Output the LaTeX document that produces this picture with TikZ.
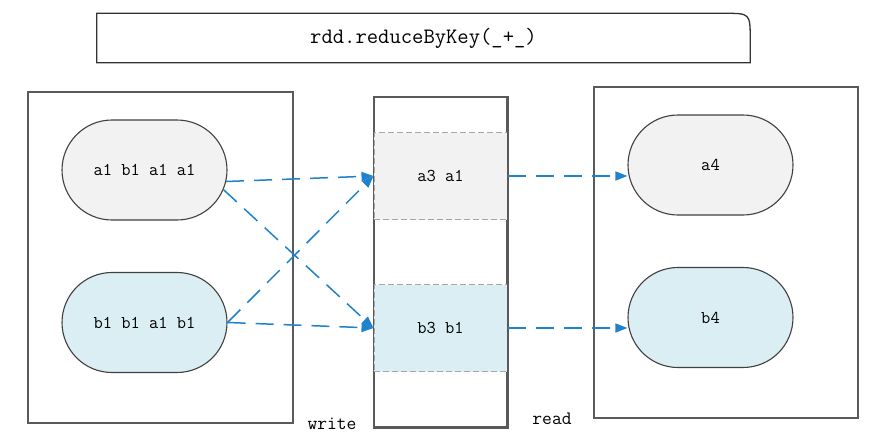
\documentclass[tikz,border=0pt]{standalone}
\usepackage{fontspec}
\usetikzlibrary{arrows.meta,shapes.misc}
\definecolor{boxgray}{HTML}{5A5A5A}
\definecolor{pillgray}{HTML}{F2F2F2}
\definecolor{pillblue}{HTML}{DAEEF3}
\definecolor{flowblue}{HTML}{1E82CD}
\definecolor{celledge}{HTML}{A6A6A6}

\begin{document}
\begin{tikzpicture}[x=1pt, y=-1pt,
    frame/.style={draw=boxgray, line width=1.6pt, inner sep=0pt},
    pill/.style={rounded rectangle, draw=black!75, line width=1.1pt, inner sep=0pt,
        minimum width=165pt, minimum height=100pt, font=\ttfamily\fontsize{18}{21}\selectfont},
    cell/.style={draw=celledge, dash pattern=on 6pt off 3pt, line width=1pt, inner sep=0pt,
        minimum width=133pt, minimum height=87pt, font=\ttfamily\fontsize{18}{21}\selectfont},
    flow/.style={draw=flowblue, line width=1.5pt, dash pattern=on 18pt off 10pt,
        -{Triangle[length=12pt, width=9pt]}},
    tag/.style={font=\ttfamily\fontsize{19}{22}\selectfont, inner sep=0pt}]
    \useasboundingbox (0,0) rectangle (875,434);

    \node[inner sep=0pt, minimum width=653pt, minimum height=49pt,
        font=\ttfamily\fontsize{22}{25}\selectfont] (title) at (423.5,38) {rdd.reduceByKey(\_+\_)};
    \draw[draw=black!80, line width=1.3pt] (title.south west) |- ([xshift=-26pt]title.north east)
        .. controls (title.north east) .. ([yshift=-26pt]title.north east) -- (title.south east) -- cycle;

    \node[frame, minimum width=265pt, minimum height=331pt] (left) at (160.5,257.5) {};
    \node[frame, minimum width=133pt, minimum height=330pt] (mid) at (440.5,262) {};
    \node[frame, minimum width=264pt, minimum height=331pt] (right) at (726,252.5) {};

    \node[cell, fill=pillgray] (cella) at (440.5,176) {a3 a1};
    \node[cell, fill=pillblue] (cellb) at (440.5,328) {b3 b1};
    \draw[draw=boxgray, line width=1.4pt] (mid.north west) rectangle (mid.south east);

    \node[pill, fill=pillgray] (tl) at (144.5,170) {a1 b1 a1 a1};
    \node[pill, fill=pillblue] (bl) at (144.5,322.5) {b1 b1 a1 b1};
    \node[pill, fill=pillgray] (tr) at (710.5,165) {a4};
    \node[pill, fill=pillblue] (br) at (710.5,317.5) {b4};

    \draw[flow] (tl.-8) -- (cella.west);
    \draw[flow] (tl.-14) -- (cellb.west);
    \draw[flow] (bl.east) -- (cella.west);
    \draw[flow] (bl.east) -- (cellb.west);
    \draw[flow] (cella.east) -- (cella.east -| tr.west);
    \draw[flow] (cellb.east) -- (cellb.east -| br.west);

    \node[tag] (write) at (332,424) {write};
    \node[tag] (read) at (552,419) {read};
\end{tikzpicture}
\end{document}
